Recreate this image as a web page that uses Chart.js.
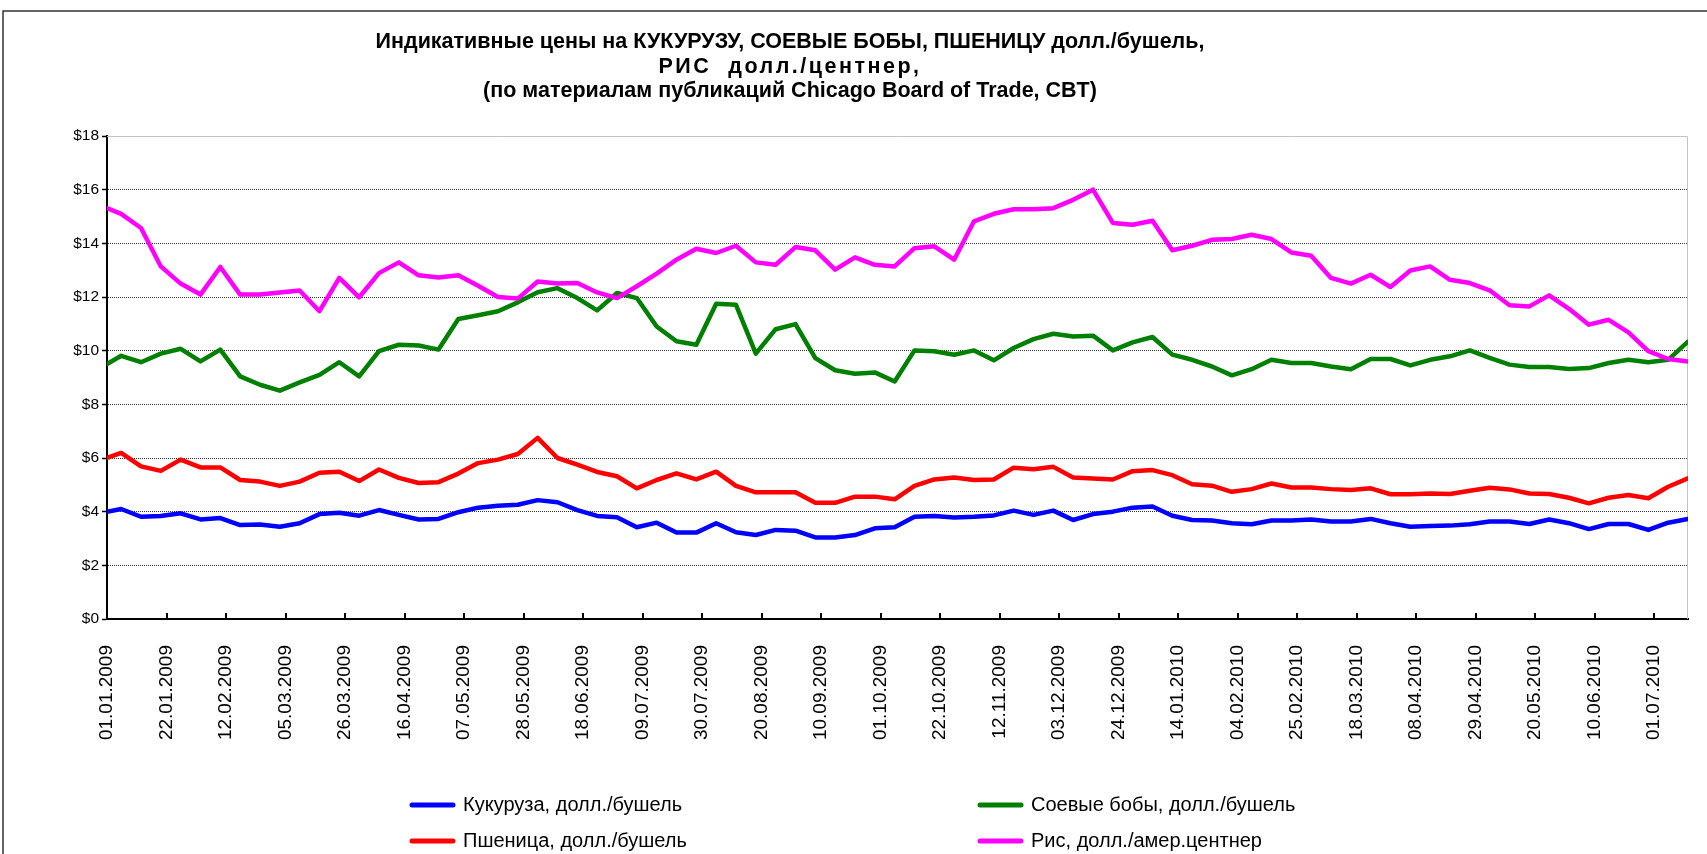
<!DOCTYPE html>
<html><head><meta charset="utf-8">
<script src="https://cdn.jsdelivr.net/npm/chart.js@4.4.1/dist/chart.umd.min.js"></script>
<style>html,body{margin:0;padding:0;background:#fff;}#wrap{width:1707px;height:854px;position:relative;}canvas{display:block;}</style>
</head><body><div id="wrap"><canvas id="c" width="1707" height="854"></canvas></div>
<script>
const titleLines = [
  'Индикативные цены на КУКУРУЗУ, СОЕВЫЕ БОБЫ, ПШЕНИЦУ долл./бушель,',
  'РИС  долл./центнер,',
  '(по материалам публикаций Chicago Board of Trade, CBT)'
];
const seriesNames = ['Кукуруза, долл./бушель', 'Соевые бобы, долл./бушель', 'Пшеница, долл./бушель', 'Рис, долл./амер.центнер'];
const seriesColors = ['#0000ff', '#008000', '#ff0000', '#ff00ff'];

const dates = ['01.01.2009','06.01.2009','13.01.2009','20.01.2009','27.01.2009','03.02.2009','10.02.2009','17.02.2009','24.02.2009','03.03.2009','10.03.2009','17.03.2009','24.03.2009','31.03.2009','07.04.2009','14.04.2009','21.04.2009','28.04.2009','05.05.2009','12.05.2009','19.05.2009','26.05.2009','02.06.2009','09.06.2009','16.06.2009','23.06.2009','30.06.2009','07.07.2009','14.07.2009','21.07.2009','28.07.2009','04.08.2009','11.08.2009','18.08.2009','25.08.2009','01.09.2009','08.09.2009','15.09.2009','22.09.2009','29.09.2009','06.10.2009','13.10.2009','20.10.2009','27.10.2009','03.11.2009','10.11.2009','17.11.2009','24.11.2009','01.12.2009','08.12.2009','15.12.2009','22.12.2009','29.12.2009','05.01.2010','12.01.2010','19.01.2010','26.01.2010','02.02.2010','09.02.2010','16.02.2010','23.02.2010','02.03.2010','09.03.2010','16.03.2010','23.03.2010','30.03.2010','06.04.2010','13.04.2010','20.04.2010','27.04.2010','04.05.2010','11.05.2010','18.05.2010','25.05.2010','01.06.2010','08.06.2010','15.06.2010','22.06.2010','29.06.2010','06.07.2010','13.07.2010'];

const corn = [4.00,4.10,3.81,3.84,3.94,3.71,3.76,3.50,3.52,3.44,3.57,3.91,3.96,3.85,
  4.06,3.88,3.71,3.73,3.98,4.15,4.22,4.26,4.43,4.35,4.06,3.84,3.79,
  3.42,3.59,3.22,3.22,3.57,3.23,3.13,3.32,3.29,3.04,3.04,3.13,3.38,3.42,
  3.81,3.84,3.78,3.81,3.86,4.04,3.88,4.04,3.69,3.91,4.00,4.15,4.19,
  3.85,3.69,3.67,3.57,3.53,3.67,3.67,3.71,3.63,3.63,3.73,3.57,3.44,3.47,
  3.48,3.53,3.63,3.63,3.54,3.71,3.57,3.35,3.54,3.54,3.32,3.59,3.73];
const soy = [9.50,9.81,9.57,9.89,10.07,9.60,10.04,9.04,8.73,8.51,8.82,9.10,9.57,9.04,
  9.98,10.22,10.19,10.04,11.18,11.32,11.47,11.80,12.18,12.33,11.96,11.50,12.15,
  11.96,10.90,10.35,10.22,11.75,11.71,9.89,10.80,10.99,9.72,9.27,9.14,9.19,8.85,
  10.01,9.98,9.85,10.01,9.64,10.10,10.43,10.63,10.53,10.56,10.01,10.31,10.51,
  9.85,9.66,9.41,9.08,9.31,9.66,9.54,9.54,9.41,9.31,9.69,9.69,9.45,9.66,
  9.79,10.01,9.73,9.48,9.39,9.39,9.32,9.35,9.54,9.66,9.57,9.66,10.34];
const wheat = [6.00,6.19,5.69,5.52,5.94,5.65,5.65,5.18,5.12,4.96,5.12,5.45,5.49,5.14,
  5.57,5.26,5.07,5.10,5.42,5.81,5.94,6.15,6.75,6.00,5.75,5.48,5.32,
  4.87,5.18,5.43,5.20,5.49,4.96,4.72,4.72,4.72,4.33,4.33,4.56,4.56,4.46,
  4.96,5.20,5.27,5.18,5.20,5.64,5.58,5.67,5.27,5.24,5.20,5.51,5.55,
  5.36,5.02,4.97,4.74,4.84,5.05,4.90,4.90,4.84,4.81,4.87,4.65,4.65,4.68,
  4.66,4.78,4.89,4.83,4.68,4.66,4.52,4.31,4.52,4.62,4.50,4.93,5.24];
const rice = [15.31,15.10,14.57,13.14,12.50,12.09,13.12,12.09,12.09,12.17,12.24,11.47,12.71,11.99,
  12.89,13.29,12.81,12.73,12.81,12.42,12.00,11.94,12.58,12.50,12.52,12.17,11.96,
  12.40,12.87,13.39,13.80,13.64,13.91,13.29,13.20,13.86,13.74,13.02,13.48,13.20,13.14,
  13.82,13.89,13.39,14.82,15.10,15.27,15.27,15.31,15.62,16.00,14.76,14.69,14.84,
  13.74,13.91,14.13,14.16,14.32,14.16,13.66,13.54,12.71,12.50,12.83,12.37,12.99,13.14,
  12.64,12.52,12.25,11.69,11.65,12.06,11.56,10.97,11.15,10.68,9.98,9.69,9.60];

const xTickLabels = ['01.01.2009','22.01.2009','12.02.2009','05.03.2009','26.03.2009','16.04.2009','07.05.2009','28.05.2009','18.06.2009','09.07.2009','30.07.2009','20.08.2009','10.09.2009','01.10.2009','22.10.2009','12.11.2009','03.12.2009','24.12.2009','14.01.2010','04.02.2010','25.02.2010','18.03.2010','08.04.2010','29.04.2010','20.05.2010','10.06.2010','01.07.2010'];
const yTickValues = [0,2,4,6,8,10,12,14,16,18];
const yTickLabels = ['$0','$2','$4','$6','$8','$10','$12','$14','$16','$18'];

const FONT = '"Liberation Sans", Arial, sans-serif';
const BASE = Date.UTC(2009, 0, 1);
function dayOf(s) {
  const p = s.split('.');
  return Math.round((Date.UTC(+p[2], +p[1] - 1, +p[0]) - BASE) / 86400000);
}
const days = dates.map(dayOf);
const xTickDays = xTickLabels.map(dayOf);
const series = [corn, soy, wheat, rice];

const decor = {
  id: 'decor',
  beforeDatasetsDraw(chart) {
    const {ctx, chartArea: a} = chart;
    ctx.save();
    ctx.strokeStyle = '#c4c4c4';
    ctx.lineWidth = 1;
    ctx.beginPath();
    ctx.moveTo(a.left, Math.round(a.top) + 0.5);
    ctx.lineTo(Math.round(a.right) - 0.5, Math.round(a.top) + 0.5);
    ctx.lineTo(Math.round(a.right) - 0.5, a.bottom);
    ctx.stroke();
    ctx.restore();
  },
  afterDraw(chart) {
    const {ctx, chartArea: a} = chart;
    ctx.save();
    // outer frame (cropped Excel chart border)
    ctx.strokeStyle = '#333';
    ctx.lineWidth = 1.5;
    ctx.beginPath();
    ctx.moveTo(3, 854); ctx.lineTo(3, 11); ctx.lineTo(1707, 11);
    ctx.stroke();
    // title
    ctx.fillStyle = '#000';
    ctx.font = 'bold 21.5px ' + FONT;
    ctx.textAlign = 'center';
    ctx.textBaseline = 'middle';
    titleLines.forEach((t, i) => {
      ctx.letterSpacing = i === 1 ? '2.5px' : '0px';
      ctx.fillText(t, 790, 42.5 + i * 24.5);
    });
    ctx.letterSpacing = '0px';
    // inward x tick marks
    const xs = chart.scales.x;
    ctx.strokeStyle = '#000';
    ctx.lineWidth = 2;
    xs.ticks.forEach(t => {
      const px = Math.round(xs.getPixelForValue(t.value));
      ctx.beginPath(); ctx.moveTo(px, a.bottom); ctx.lineTo(px, a.bottom - 6); ctx.stroke();
    });
    // legend (2 x 2)
    const cols = [410, 978];
    const rows = [805, 841];
    ctx.font = '20px ' + FONT;
    ctx.textAlign = 'left';
    chart.data.datasets.forEach((ds, i) => {
      const x = cols[i % 2], y = rows[Math.floor(i / 2)];
      ctx.strokeStyle = ds.borderColor;
      ctx.lineWidth = 5;
      ctx.lineCap = 'round';
      ctx.beginPath(); ctx.moveTo(x + 2, y); ctx.lineTo(x + 43, y); ctx.stroke();
      ctx.fillStyle = '#000';
      ctx.fillText(ds.label, x + 53, y);
    });
    ctx.restore();
  }
};

new Chart(document.getElementById('c'), {
  type: 'line',
  data: {
    datasets: series.map((s, i) => ({
      label: seriesNames[i],
      data: s.map((v, j) => ({x: days[j], y: v})),
      borderColor: seriesColors[i],
      backgroundColor: seriesColors[i],
      borderWidth: 4.5,
      pointRadius: 0,
      tension: 0,
      borderJoinStyle: 'round',
      borderCapStyle: 'round',
      fill: false,
      order: 4 - i
    }))
  },
  options: {
    responsive: false,
    animation: false,
    devicePixelRatio: 1,
    layout: {padding: {top: 136, right: 19, bottom: 0, left: 0}},
    plugins: {legend: {display: false}, title: {display: false}, tooltip: {enabled: false}},
    scales: {
      x: {
        type: 'linear',
        min: 0,
        max: days[days.length - 1],
        afterBuildTicks(scale) { scale.ticks = xTickDays.map(v => ({value: v})); },
        afterFit(scale) { scale.height = 854 - 619; },
        grid: {display: true, drawOnChartArea: false, drawTicks: false},
        border: {display: true, color: '#000', width: 2},
        ticks: {
          autoSkip: false, maxRotation: 90, minRotation: 90, padding: 26,
          color: '#000', font: {family: FONT, size: 19},
          callback: (v) => { const i = xTickDays.indexOf(v); return i >= 0 ? xTickLabels[i] : ''; }
        }
      },
      y: {
        min: 0, max: 18,
        afterBuildTicks(scale) { scale.ticks = yTickValues.map(v => ({value: v})); },
        afterFit(scale) { scale.width = 107; },
        grid: {
          color: (c) => (c.tick && (c.tick.value === 0 || c.tick.value === 18)) ? 'rgba(0,0,0,0)' : '#333',
          lineWidth: 1, tickColor: '#000', tickLength: 5, tickWidth: 1.5, tickBorderDash: []
        },
        border: {display: true, color: '#000', width: 2, dash: [1, 1]},
        ticks: {
          padding: 3, color: '#000', font: {family: FONT, size: 15.5},
          callback: (v) => { const i = yTickValues.indexOf(v); return i >= 0 ? yTickLabels[i] : ''; }
        }
      }
    }
  },
  plugins: [decor]
});
</script>
</body></html>
